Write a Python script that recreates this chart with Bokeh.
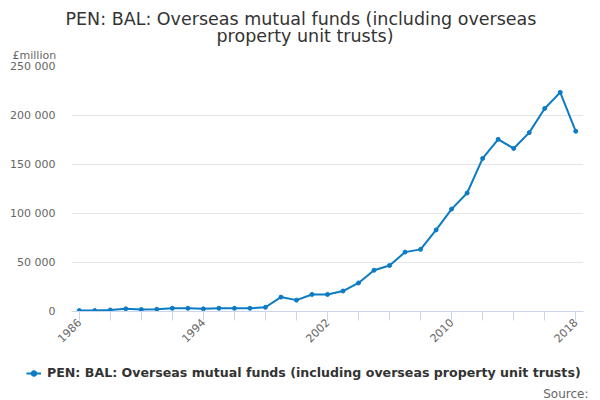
from bokeh.plotting import figure
from bokeh.layouts import column
from bokeh.models import Range1d, FixedTicker, Title, Legend, LegendItem, Label
from bokeh.embed import file_html
from bokeh.resources import INLINE
from math import pi

years = list(range(1986, 2019))
values = [1000, 1000, 1500, 2700, 2000, 2300, 3300, 3300, 2700, 3300, 3300, 3300,
          4300, 14700, 11600, 17400, 17400, 20900, 29100, 42100, 47000, 60600,
          63400, 83200, 104500, 120900, 156200, 175700, 166400, 182500, 207200,
          223600, 183900]
y_ticks = [0, 50000, 100000, 150000, 200000, 250000]
y_tick_labels = ["0", "50 000", "100 000", "150 000", "200 000", "250 000"]
x_tick_years = list(range(1986, 2019, 2))
x_label_years = [1986, 1994, 2002, 2010, 2018]

title_lines = ["PEN: BAL: Overseas mutual funds (including overseas",
               "property unit trusts)"]
series_name = "PEN: BAL: Overseas mutual funds (including overseas property unit trusts)"
unit_label = "£million"
source_label = "Source:"

FONT = "DejaVu Sans"
LINE_COLOR = "#0b7bc4"

p = figure(width=600, height=360, output_backend="svg", toolbar_location=None,
           x_range=Range1d(1985.5, 2018.5), y_range=Range1d(0, 250000),
           min_border_left=71, min_border_right=17, min_border_top=66,
           min_border_bottom=49)
p.outline_line_color = None
p.background_fill_color = "white"
p.border_fill_color = "white"

line_r = p.line(years, values, line_color=LINE_COLOR, line_width=2)
pts_r = p.scatter(years, values, size=4, fill_color=LINE_COLOR, line_color=LINE_COLOR)

# Y axis
p.yaxis.ticker = FixedTicker(ticks=y_ticks)
p.yaxis.major_label_overrides = {t: l for t, l in zip(y_ticks, y_tick_labels)}
p.yaxis.axis_line_color = None
p.yaxis.major_tick_line_color = None
p.yaxis.major_tick_in = 0
p.yaxis.major_tick_out = 0
p.yaxis.minor_tick_line_color = None
p.yaxis.minor_tick_out = 0
p.yaxis.major_label_standoff = 16
p.yaxis.major_label_text_font = FONT
p.yaxis.major_label_text_font_size = "11px"
p.yaxis.major_label_text_color = "#666666"

# X axis
p.xaxis.ticker = FixedTicker(ticks=x_tick_years)
p.xaxis.major_label_overrides = {y: (str(y) if y in x_label_years else "") for y in x_tick_years}
p.xaxis.axis_line_color = "#ccd6eb"
p.xaxis.major_tick_line_color = "#ccd6eb"
p.xaxis.major_tick_in = 0
p.xaxis.major_tick_out = 9
p.xaxis.minor_tick_line_color = None
p.xaxis.major_label_orientation = pi / 4
p.xaxis.major_label_standoff = 0
p.xaxis.major_label_text_font = FONT
p.xaxis.major_label_text_font_size = "11px"
p.xaxis.major_label_text_color = "#666666"

p.xgrid.grid_line_color = None
p.ygrid.ticker = FixedTicker(ticks=y_ticks[1:])
p.ygrid.grid_line_color = "#e6e6e6"

# Title stack: first added sits nearest the frame
p.title.text = ""
p.add_layout(Title(text=unit_label, align="left", offset=-59, standoff=10,
                   text_font=FONT, text_font_size="11px", text_font_style="normal",
                   text_color="#666666"), "above")
p.add_layout(Title(text=title_lines[1], align="left", offset=145, standoff=-8,
                   text_font=FONT, text_font_size="17.5px", text_font_style="normal",
                   text_color="#333333"), "above")
p.add_layout(Title(text=title_lines[0], align="left", offset=-6, standoff=-2,
                   text_font=FONT, text_font_size="17.5px", text_font_style="normal",
                   text_color="#333333"), "above")

# Legend / source strip (its own frame covers the whole strip)
q = figure(width=600, height=40, output_backend="svg", toolbar_location=None,
           x_range=Range1d(0, 600), y_range=Range1d(0, 40),
           x_axis_location=None, y_axis_location=None,
           min_border=0, min_border_left=0, min_border_right=0,
           min_border_top=0, min_border_bottom=0)
q.outline_line_color = None
q.xgrid.grid_line_color = None
q.ygrid.grid_line_color = None
q.title.text = ""
# same series, lying outside this strip's ranges, used only for the legend key
lg_line = q.line(years, values, line_color=LINE_COLOR, line_width=2)
lg_pts = q.scatter(years, values, size=4, fill_color=LINE_COLOR, line_color=LINE_COLOR)

for fig in (p, q):
    try:
        fig.frame_align = False
    except Exception:
        pass

legend = Legend(items=[LegendItem(label=series_name, renderers=[lg_line, lg_pts])],
                location=(26, 20), orientation="horizontal",
                glyph_width=15, glyph_height=14, label_height=14, label_standoff=6,
                padding=0, margin=0, border_line_color=None, background_fill_alpha=0,
                label_text_font=FONT, label_text_font_size="12.6px",
                label_text_font_style="bold", label_text_color="#333333")
q.add_layout(legend, "center")

q.add_layout(Label(x=588, y=7, x_units="screen", y_units="screen", text=source_label,
                   text_align="right", text_baseline="alphabetic",
                   text_font=FONT, text_font_size="12px", text_color="#666666"))

layout = column(p, q, spacing=0)
open("out.html", "w").write(file_html(layout, INLINE))
